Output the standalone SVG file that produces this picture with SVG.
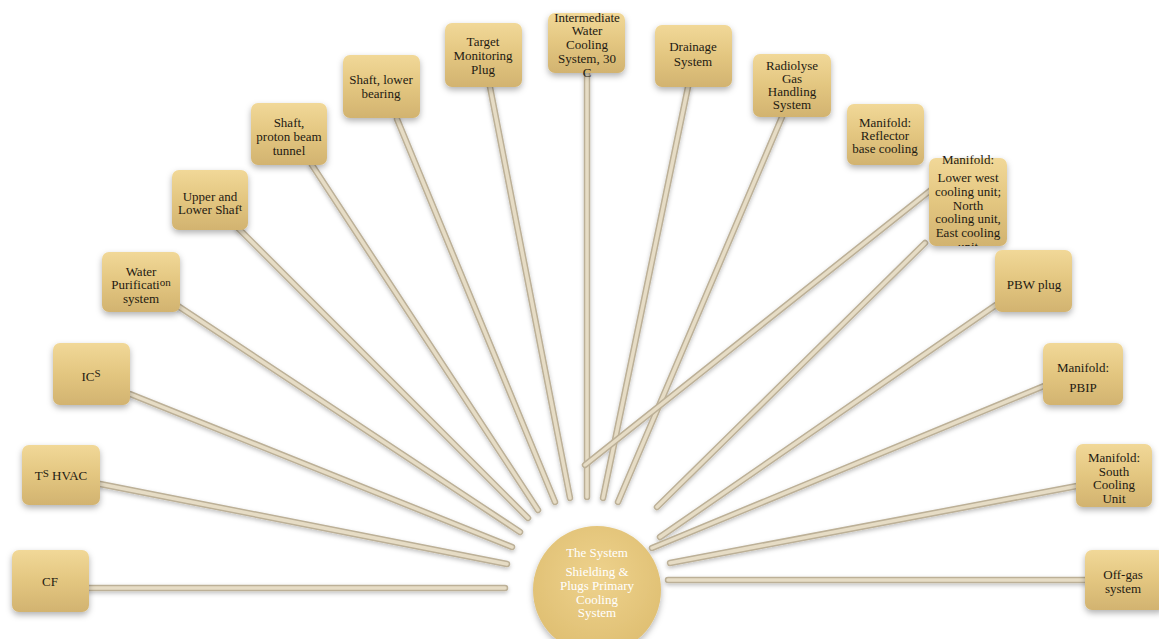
<svg xmlns="http://www.w3.org/2000/svg" width="1159" height="639" viewBox="0 0 1159 639">
<style>
.nt{font-family:"Liberation Serif","Times New Roman",serif;font-size:13px;fill:#1e1a12;text-anchor:middle}
.ct{font-family:"Liberation Serif","Times New Roman",serif;font-size:13px;fill:#ffffff;text-anchor:middle}
.box{fill:url(#boxg);filter:url(#sh)}
.lo{stroke:#bcb097;stroke-width:6.5;stroke-linecap:round;fill:none}
.li{stroke:#e6dcc5;stroke-width:3.5;stroke-linecap:round;fill:none}
</style>
<defs>
<linearGradient id="boxg" x1="0" y1="0" x2="0" y2="1">
<stop offset="0" stop-color="#f1d898"/>
<stop offset="0.5" stop-color="#e3c680"/>
<stop offset="1" stop-color="#d2b370"/>
</linearGradient>
<radialGradient id="cg" cx="0.5" cy="0.4" r="0.6">
<stop offset="0" stop-color="#eed28d"/>
<stop offset="1" stop-color="#dfbf72"/>
</radialGradient>
<filter id="sh" x="-20%" y="-20%" width="140%" height="150%">
<feDropShadow dx="0" dy="3" stdDeviation="3" flood-color="#000" flood-opacity="0.3"/>
</filter>
<filter id="lsh" x="-10%" y="-10%" width="120%" height="120%">
<feDropShadow dx="0" dy="2" stdDeviation="2" flood-color="#000" flood-opacity="0.25"/>
</filter>
<clipPath id="lwclip"><rect x="925" y="150" width="90" height="96"/></clipPath>
<path id="c1" d="M89,588 L505,588"/>
<path id="c2" d="M100,484 L507,564"/>
<path id="c3" d="M130,394 L512,547"/>
<path id="c4" d="M178,306 L520,532"/>
<path id="c5" d="M238,228 L528,518"/>
<path id="c6" d="M312,165 L538,510"/>
<path id="c7" d="M397,119 L555,502"/>
<path id="c8" d="M490,87 L570,498"/>
<path id="c9" d="M587,73 L587,497"/>
<path id="c10" d="M688,87 L603,498"/>
<path id="c11" d="M782,117 L618,502"/>
<path id="c12" d="M931,190 L585,465"/>
<path id="c13" d="M925,243 L657,507"/>
<path id="c14" d="M996,305 L660,537"/>
<path id="c15" d="M1044,386 L652,548"/>
<path id="c16" d="M1077,486 L670,563"/>
<path id="c17" d="M1086,580 L668,580"/>
</defs>
<rect x="0" y="0" width="1159" height="639" fill="#ffffff"/>
<g id="connectors" filter="url(#lsh)">
<use href="#c1" class="lo"/><use href="#c1" class="li"/>
<use href="#c2" class="lo"/><use href="#c2" class="li"/>
<use href="#c3" class="lo"/><use href="#c3" class="li"/>
<use href="#c4" class="lo"/><use href="#c4" class="li"/>
<use href="#c5" class="lo"/><use href="#c5" class="li"/>
<use href="#c6" class="lo"/><use href="#c6" class="li"/>
<use href="#c7" class="lo"/><use href="#c7" class="li"/>
<use href="#c8" class="lo"/><use href="#c8" class="li"/>
<use href="#c9" class="lo"/><use href="#c9" class="li"/>
<use href="#c10" class="lo"/><use href="#c10" class="li"/>
<use href="#c11" class="lo"/><use href="#c11" class="li"/>
<use href="#c12" class="lo"/><use href="#c12" class="li"/>
<use href="#c13" class="lo"/><use href="#c13" class="li"/>
<use href="#c14" class="lo"/><use href="#c14" class="li"/>
<use href="#c15" class="lo"/><use href="#c15" class="li"/>
<use href="#c16" class="lo"/><use href="#c16" class="li"/>
<use href="#c17" class="lo"/><use href="#c17" class="li"/>
</g>
<g id="center">
<circle cx="597" cy="590" r="64" fill="url(#cg)" filter="url(#sh)"/>
<text class="ct" x="597" y="557">The System</text>
<text class="ct" x="597" y="576">Shielding &amp;</text>
<text class="ct" x="597" y="590">Plugs Primary</text>
<text class="ct" x="597" y="604">Cooling</text>
<text class="ct" x="597" y="617">System</text>
</g>
<g id="n-cf"><rect class="box" x="12" y="550" width="77" height="62" rx="7"/>
<text class="nt" x="50" y="586">CF</text></g>
<g id="n-tshvac"><rect class="box" x="22" y="445" width="78" height="60" rx="7"/>
<text class="nt" x="61" y="480">T<tspan dy="-3" font-size="11">S</tspan><tspan dy="3"> HVAC</tspan></text></g>
<g id="n-ics"><rect class="box" x="53" y="343" width="77" height="62" rx="7"/>
<text class="nt" x="91" y="381">IC<tspan dy="-4" font-size="11">S</tspan></text></g>
<g id="n-water"><rect class="box" x="102" y="252" width="78" height="60" rx="7"/>
<text class="nt" x="141" y="276">Water</text>
<text class="nt" x="141" y="289">Purificati<tspan dy="-3" font-size="11">on</tspan></text>
<text class="nt" x="141" y="303">system</text></g>
<g id="n-upper"><rect class="box" x="172" y="170" width="76" height="60" rx="7"/>
<text class="nt" x="210" y="201">Upper and</text>
<text class="nt" x="210" y="214">Lower Shaf<tspan dy="-3" font-size="11">t</tspan></text></g>
<g id="n-proton"><rect class="box" x="251" y="103" width="76" height="62" rx="7"/>
<text class="nt" x="289" y="127">Shaft,</text>
<text class="nt" x="289" y="141">proton beam</text>
<text class="nt" x="289" y="155">tunnel</text></g>
<g id="n-bearing"><rect class="box" x="343" y="55" width="77" height="63" rx="7"/>
<text class="nt" x="381" y="84">Shaft, lower</text>
<text class="nt" x="381" y="98">bearing</text></g>
<g id="n-target"><rect class="box" x="445" y="23" width="77" height="64" rx="7"/>
<text class="nt" x="483" y="46">Target</text>
<text class="nt" x="483" y="60">Monitoring</text>
<text class="nt" x="483" y="74">Plug</text></g>
<g id="n-intermediate"><rect class="box" x="548" y="13" width="77" height="60" rx="7"/>
<text class="nt" x="587" y="22">Intermediate</text>
<text class="nt" x="587" y="35">Water</text>
<text class="nt" x="587" y="49">Cooling</text>
<text class="nt" x="587" y="63">System, 30</text>
<text class="nt" x="587" y="77">C</text></g>
<g id="n-drainage"><rect class="box" x="655" y="25" width="77" height="62" rx="7"/>
<text class="nt" x="693" y="51">Drainage</text>
<text class="nt" x="693" y="66">System</text></g>
<g id="n-radiolyse"><rect class="box" x="753" y="54" width="78" height="63" rx="7"/>
<text class="nt" x="792" y="70">Radiolyse</text>
<text class="nt" x="792" y="83">Gas</text>
<text class="nt" x="792" y="96">Handling</text>
<text class="nt" x="792" y="109">System</text></g>
<g id="n-reflector"><rect class="box" x="847" y="104" width="77" height="61" rx="7"/>
<text class="nt" x="885" y="127">Manifold:</text>
<text class="nt" x="885" y="140">Reflector</text>
<text class="nt" x="885" y="153">base cooling</text></g>
<g id="n-lowerwest"><rect class="box" x="929" y="158" width="78" height="88" rx="7"/>
<g clip-path="url(#lwclip)">
<text class="nt" x="968" y="164">Manifold:</text>
<text class="nt" x="968" y="182">Lower west</text>
<text class="nt" x="968" y="196">cooling unit;</text>
<text class="nt" x="968" y="210">North</text>
<text class="nt" x="968" y="223">cooling unit,</text>
<text class="nt" x="968" y="237">East cooling</text>
<text class="nt" x="968" y="251">unit</text>
</g></g>
<g id="n-pbw"><rect class="box" x="995" y="250" width="77" height="62" rx="7"/>
<text class="nt" x="1034" y="289">PBW plug</text></g>
<g id="n-pbip"><rect class="box" x="1043" y="343" width="80" height="62" rx="7"/>
<text class="nt" x="1083" y="372">Manifold:</text>
<text class="nt" x="1083" y="392">PBIP</text></g>
<g id="n-south"><rect class="box" x="1076" y="444" width="76" height="63" rx="7"/>
<text class="nt" x="1114" y="462">Manifold:</text>
<text class="nt" x="1114" y="476">South</text>
<text class="nt" x="1114" y="489">Cooling</text>
<text class="nt" x="1114" y="503">Unit</text></g>
<g id="n-offgas"><rect class="box" x="1085" y="550" width="80" height="60" rx="7"/>
<text class="nt" x="1123" y="579">Off-gas</text>
<text class="nt" x="1123" y="593">system</text></g>
</svg>
